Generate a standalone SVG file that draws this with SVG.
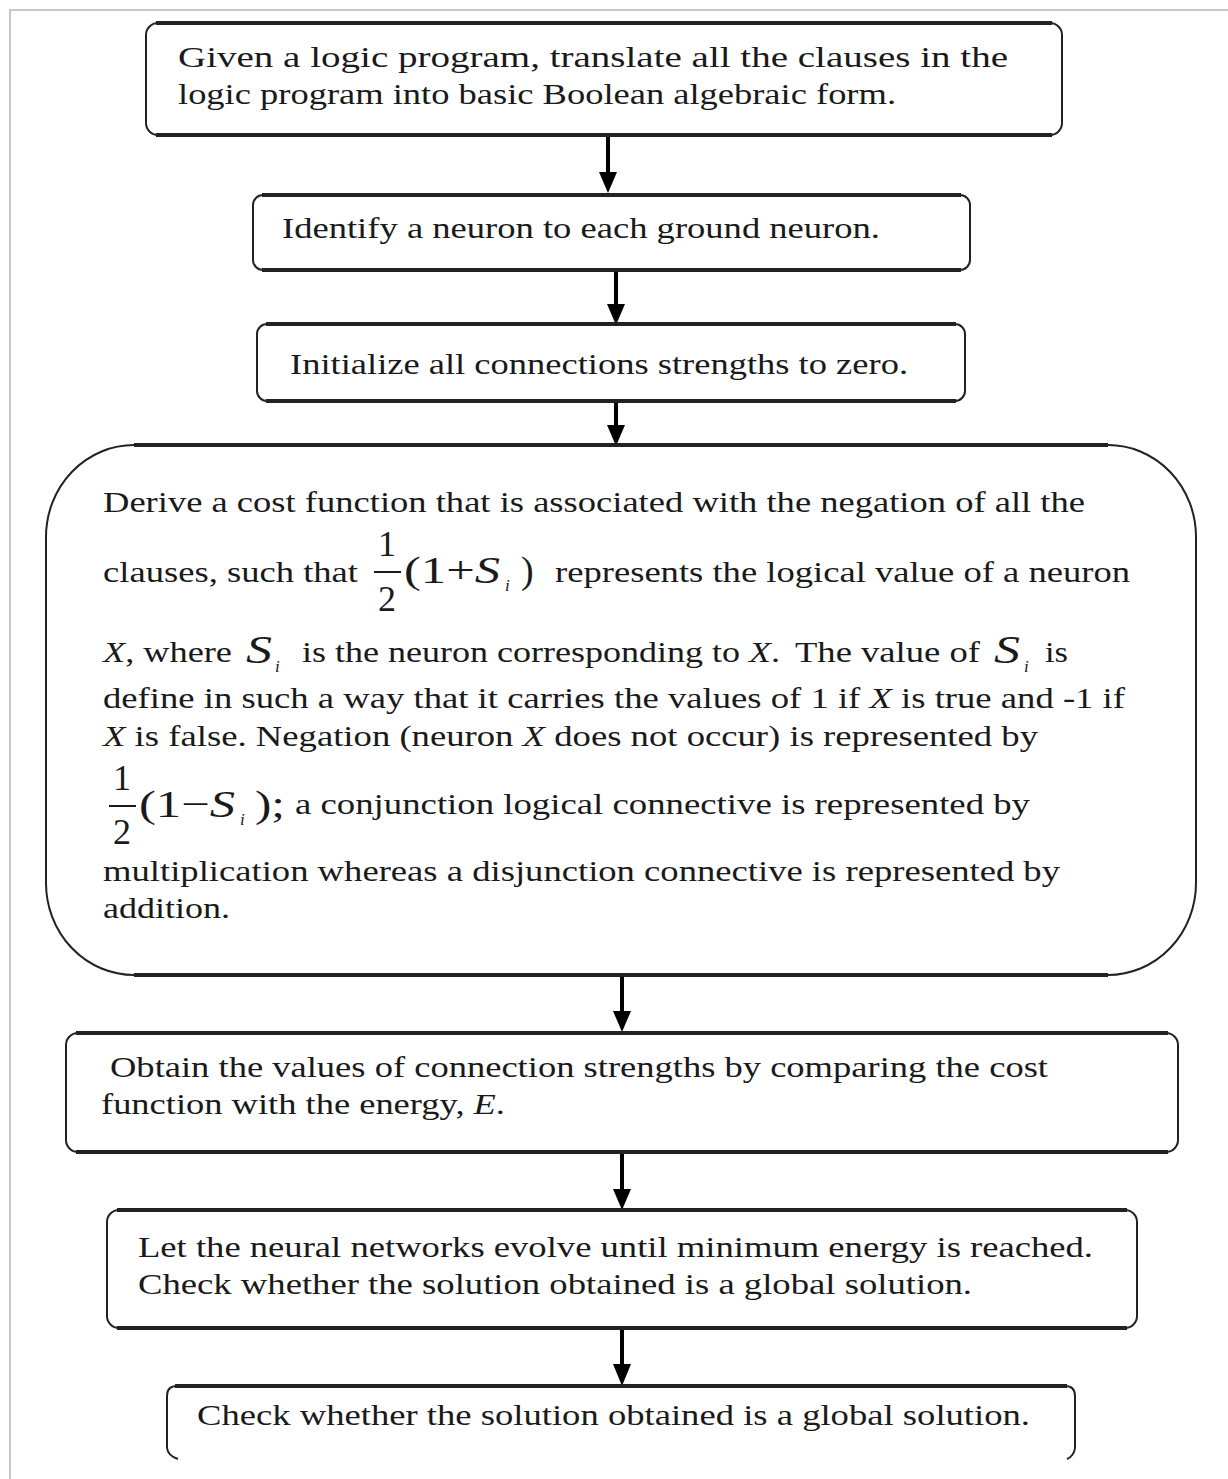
<svg xmlns="http://www.w3.org/2000/svg" width="1228" height="1479" viewBox="0 0 1228 1479">
<defs>
<style>
.box{fill:#fff;stroke:#222;stroke-width:2}
.edge{stroke:#222;stroke-width:4;fill:none}
.t{font-family:"Liberation Serif","Times New Roman",serif;font-size:30px;fill:#1a1a1a}
.m{font-family:"Liberation Serif","Times New Roman",serif;fill:#1a1a1a}
.it{font-style:italic}
.conn{stroke:#000;stroke-width:4;fill:none}
.frame{stroke:#c8c8c8;stroke-width:2;fill:none}
</style>
</defs>
<rect width="1228" height="1479" fill="#fff"/>
<path class="frame" d="M10,1479 L10,10 L1228,10"/>

<g id="connectors">
<line class="conn" x1="608" y1="136" x2="608" y2="173"/>
<path d="M599,172 L617,172 L608,193 Z" fill="#000"/>
<line class="conn" x1="616" y1="271" x2="616" y2="305"/>
<path d="M607,304 L625,304 L616,325 Z" fill="#000"/>
<line class="conn" x1="616" y1="402" x2="616" y2="426"/>
<path d="M607,425 L625,425 L616,446 Z" fill="#000"/>
<line class="conn" x1="622" y1="976" x2="622" y2="1012"/>
<path d="M613,1011 L631,1011 L622,1032 Z" fill="#000"/>
<line class="conn" x1="622" y1="1153" x2="622" y2="1190"/>
<path d="M613,1189 L631,1189 L622,1210 Z" fill="#000"/>
<line class="conn" x1="622" y1="1329" x2="622" y2="1365"/>
<path d="M613,1364 L631,1364 L622,1386 Z" fill="#000"/>
</g>

<g id="n1">
<rect class="box" x="146" y="23" width="916" height="112" rx="12"/>
<line class="edge" x1="156" y1="23" x2="1052" y2="23"/>
<line class="edge" x1="156" y1="135" x2="1052" y2="135"/>
<text class="t" x="178" y="67" textLength="830" lengthAdjust="spacingAndGlyphs">Given a logic program, translate all the clauses in the</text>
<text class="t" x="178" y="104" textLength="718" lengthAdjust="spacingAndGlyphs">logic program into basic Boolean algebraic form.</text>
</g>

<g id="n2">
<rect class="box" x="253" y="195" width="717" height="75" rx="10"/>
<line class="edge" x1="262" y1="195" x2="961" y2="195"/>
<line class="edge" x1="262" y1="270" x2="961" y2="270"/>
<text class="t" x="282" y="238" textLength="598" lengthAdjust="spacingAndGlyphs">Identify a neuron to each ground neuron.</text>
</g>

<g id="n3">
<rect class="box" x="257" y="324" width="708" height="77" rx="10"/>
<line class="edge" x1="266" y1="324" x2="956" y2="324"/>
<line class="edge" x1="266" y1="401" x2="956" y2="401"/>
<text class="t" x="290" y="374" textLength="618" lengthAdjust="spacingAndGlyphs">Initialize all connections strengths to zero.</text>
</g>

<g id="n4">
<rect class="box" x="46" y="445" width="1150" height="530" rx="88" ry="92"/>
<line class="edge" x1="134" y1="445" x2="1108" y2="445"/>
<line class="edge" x1="134" y1="975" x2="1108" y2="975"/>
<text class="t" x="103" y="512" textLength="982" lengthAdjust="spacingAndGlyphs">Derive a cost function that is associated with the negation of all the</text>
<text class="t" x="103" y="582" textLength="255" lengthAdjust="spacingAndGlyphs">clauses, such that</text>
<text class="m" x="387" y="556" font-size="36" text-anchor="middle">1</text>
<line x1="374" y1="572" x2="401" y2="572" stroke="#1a1a1a" stroke-width="2"/>
<text class="m" x="387" y="611" font-size="36" text-anchor="middle">2</text>
<text class="m" x="404" y="583" font-size="38" textLength="96" lengthAdjust="spacingAndGlyphs">(1+<tspan class="it">S</tspan></text>
<text class="m it" x="505" y="591" font-size="17">i</text>
<text class="m" x="521" y="583" font-size="38">)</text>
<text class="t" x="555" y="582" textLength="575" lengthAdjust="spacingAndGlyphs">represents the logical value of a neuron</text>
<text class="t" x="103" y="662" textLength="129" lengthAdjust="spacingAndGlyphs"><tspan class="it">X</tspan>, where</text>
<text class="m it" x="246" y="663" font-size="40" textLength="26" lengthAdjust="spacingAndGlyphs">S</text>
<text class="m it" x="275" y="672" font-size="17">i</text>
<text class="t" x="302" y="662" textLength="478" lengthAdjust="spacingAndGlyphs">is the neuron corresponding to <tspan class="it">X</tspan>.</text>
<text class="t" x="795" y="662" textLength="185" lengthAdjust="spacingAndGlyphs">The value of</text>
<text class="m it" x="994" y="663" font-size="40" textLength="26" lengthAdjust="spacingAndGlyphs">S</text>
<text class="m it" x="1024" y="672" font-size="17">i</text>
<text class="t" x="1045" y="662" textLength="23" lengthAdjust="spacingAndGlyphs">is</text>
<text class="t" x="103" y="708" textLength="1022" lengthAdjust="spacingAndGlyphs">define in such a way that it carries the values of 1 if <tspan class="it">X</tspan> is true and -1 if</text>
<text class="t" x="103" y="746" textLength="935" lengthAdjust="spacingAndGlyphs"><tspan class="it">X</tspan> is false. Negation (neuron <tspan class="it">X</tspan> does not occur) is represented by</text>
<text class="m" x="122" y="790" font-size="36" text-anchor="middle">1</text>
<line x1="109" y1="806" x2="136" y2="806" stroke="#1a1a1a" stroke-width="2"/>
<text class="m" x="122" y="844" font-size="36" text-anchor="middle">2</text>
<text class="m" x="139" y="817" font-size="38" textLength="96" lengthAdjust="spacingAndGlyphs">(1−<tspan class="it">S</tspan></text>
<text class="m it" x="240" y="825" font-size="17">i</text>
<text class="m" x="255" y="817" font-size="38" textLength="30" lengthAdjust="spacingAndGlyphs">);</text>
<text class="t" x="295" y="814" textLength="735" lengthAdjust="spacingAndGlyphs">a conjunction logical connective is represented by</text>
<text class="t" x="103" y="881" textLength="957" lengthAdjust="spacingAndGlyphs">multiplication whereas a disjunction connective is represented by</text>
<text class="t" x="103" y="918" textLength="127" lengthAdjust="spacingAndGlyphs">addition.</text>
</g>

<g id="n5">
<rect class="box" x="66" y="1033" width="1112" height="119" rx="12"/>
<line class="edge" x1="76" y1="1033" x2="1168" y2="1033"/>
<line class="edge" x1="76" y1="1152" x2="1168" y2="1152"/>
<text class="t" x="110" y="1077" textLength="938" lengthAdjust="spacingAndGlyphs">Obtain the values of connection strengths by comparing the cost</text>
<text class="t" x="101" y="1114" textLength="404" lengthAdjust="spacingAndGlyphs">function with the energy, <tspan class="it">E</tspan>.</text>
</g>

<g id="n6">
<rect class="box" x="107" y="1210" width="1030" height="118" rx="12"/>
<line class="edge" x1="117" y1="1210" x2="1127" y2="1210"/>
<line class="edge" x1="117" y1="1328" x2="1127" y2="1328"/>
<text class="t" x="138" y="1257" textLength="955" lengthAdjust="spacingAndGlyphs">Let the neural networks evolve until minimum energy is reached.</text>
<text class="t" x="138" y="1294" textLength="834" lengthAdjust="spacingAndGlyphs">Check whether the solution obtained is a global solution.</text>
</g>

<g id="n7">
<path class="box" fill="none" d="M178,1459 Q168,1456 167,1448 L167,1396 Q167,1386 177,1386 L1065,1386 Q1075,1386 1075,1396 L1075,1448 Q1074,1456 1067,1459"/>
<line class="edge" x1="175" y1="1386" x2="1067" y2="1386"/>
<text class="t" x="197" y="1425" textLength="833" lengthAdjust="spacingAndGlyphs">Check whether the solution obtained is a global solution.</text>
</g>
</svg>
